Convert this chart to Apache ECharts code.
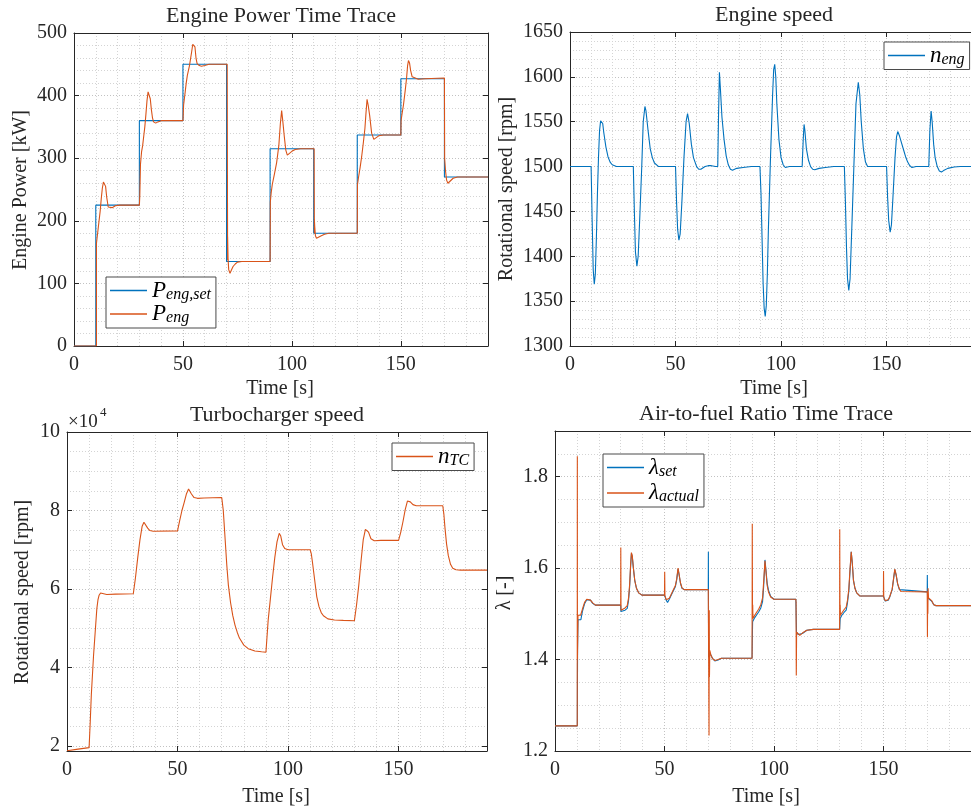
<!DOCTYPE html>
<html>
<head>
<meta charset="utf-8">
<script src="https://cdn.jsdelivr.net/npm/echarts@6/dist/echarts.min.js"></script>
<style>html,body{margin:0;padding:0;background:#fff;}#c{width:971px;height:812px;}</style>
</head>
<body>
<div id="c"></div>
<script>
// ---------- DATA ----------
const xTicks = [0, 50, 100, 150];
// Engine power set-point (step at each time, 'end' step)
const pSetT = [0, 10, 30, 50, 70, 90, 110, 130, 150, 170, 190];
const pSetV = [0, 225, 360, 450, 135, 315, 180, 337, 427, 270, 270];
// Engine power actual
const pT = [0, 10.3, 10.3, 11, 12, 12.5, 13, 13.5, 14, 14.5, 15, 15.7, 16.5, 17.5, 19, 21, 30,
  30.2, 30.5, 31, 31.5, 32, 32.5, 33, 33.5, 34, 34.4, 35, 35.5, 36, 36.5, 37.5, 38.5, 40, 50,
  50.3, 51, 51.5, 52, 53, 54, 54.5, 55, 55.5, 56, 56.5, 57.5, 58.5, 60, 62, 70.3,
  70.5, 70.5, 70.7, 71, 71.6, 72.2, 73, 74, 75, 77, 90,
  90.1, 90.5, 91, 92, 93, 94, 94.7, 95.3, 95.8, 96.5, 97.2, 97.9, 98.8, 100, 101.5, 104, 110.2,
  110.3, 110.3, 110.5, 110.8, 111.3, 112, 113.5, 115, 117, 130,
  130.1, 130.6, 131.3, 132, 132.8, 133.5, 134, 134.5, 135, 135.7, 136.6, 137.6, 138.5, 140, 142, 150,
  150.1, 150.6, 151.2, 152, 152.6, 153.1, 153.5, 154, 154.5, 155.2, 156, 158, 161, 170,
  170.1, 170.5, 171, 171.6, 172.5, 174, 176, 190];
const pV = [0, 0, 164, 185, 215, 235, 252, 262, 265, 255, 238, 222, 219, 221, 224, 225, 225,
  240, 290, 310, 320, 335, 350, 370, 392, 406, 408, 395, 378, 365, 358, 356, 358, 360, 360,
  385, 405, 420, 432, 448, 470, 482, 485, 478, 460, 451, 448, 447, 448, 450, 450,
  137, 175, 140, 122, 116, 121, 127, 131, 134, 135, 135,
  230, 245, 258, 275, 293, 320, 355, 376, 360, 335, 313, 305, 307, 311, 314, 315, 315,
  180, 203, 190, 176, 172, 173, 176, 178.5, 180, 180,
  258, 270, 285, 302, 325, 347, 372, 394, 385, 368, 340, 330, 332, 336, 337, 337,
  360, 372, 385, 408, 427, 448, 456, 452, 440, 430, 427, 426, 427, 428,
  300, 280, 265, 260, 263, 268, 270, 270];
// Engine speed
const nT = [0, 10, 10.5, 11, 11.5, 12, 12.5, 13, 13.5, 14, 14.5, 15, 15.5, 16, 17, 18, 19, 20, 22,
  30, 30.5, 31, 31.7, 32.3, 33, 34, 34.7, 35.5, 36, 37, 38, 39, 40, 42,
  50, 50.5, 51, 51.6, 52.2, 53, 54, 55, 55.7, 56.5, 57.5, 58.5, 60, 61, 62, 64, 65.5, 67, 69, 70,
  70.4, 70.8, 71.3, 72, 73, 74, 75, 76, 77, 79, 82, 86, 90,
  90.5, 91, 91.5, 92, 92.5, 93, 93.5, 94, 95, 96, 96.5, 97, 97.5, 98, 99, 100, 101, 102, 104, 110,
  110.5, 110.9, 111.3, 112, 113, 114, 115, 116, 118, 121, 125, 130,
  130.5, 131, 131.5, 132.1, 132.7, 133.5, 134.5, 135.5, 136.6, 137.3, 138, 139, 140, 141, 143, 150,
  150.5, 151, 151.7, 152.3, 153, 154, 154.7, 155.3, 156, 157, 158, 159, 160, 161, 162, 164, 170,
  170.5, 171.1, 171.6, 172.3, 173, 174, 175, 176, 177, 179, 182, 185, 190];
const nV = [1500, 1500, 1440, 1385, 1369, 1380, 1420, 1470, 1510, 1540, 1551, 1553, 1548, 1538, 1522, 1511, 1505, 1502, 1500,
  1500, 1450, 1405, 1389, 1400, 1440, 1500, 1550, 1567, 1562, 1540, 1520, 1510, 1504, 1500,
  1500, 1460, 1430, 1418, 1425, 1460, 1510, 1550, 1559, 1548, 1525, 1510, 1500, 1497, 1497, 1500, 1501, 1501, 1500, 1500,
  1560, 1605, 1585, 1555, 1530, 1512, 1502, 1497, 1496, 1498, 1499, 1500, 1500,
  1470, 1420, 1370, 1342, 1333, 1345, 1380, 1430, 1510, 1580, 1608, 1614, 1600, 1570, 1530, 1510, 1502, 1499, 1500, 1500,
  1530, 1547, 1540, 1520, 1507, 1500, 1497, 1496.5, 1498, 1499, 1500, 1500,
  1460, 1410, 1375, 1362, 1375, 1430, 1500, 1570, 1594, 1580, 1550, 1520, 1505, 1500, 1500, 1500,
  1465, 1440, 1427, 1435, 1465, 1510, 1533, 1539, 1535, 1527, 1519, 1511, 1505, 1501, 1499, 1500, 1500,
  1540, 1562, 1550, 1525, 1510, 1500, 1495, 1494, 1495.5, 1498, 1499.5, 1500, 1500];
// Turbocharger speed [rpm]
const tcT = [0, 5, 10, 10.5, 11, 12, 13, 13.5, 14, 14.5, 15.2, 16, 18, 22, 30,
  31, 32, 33, 34, 34.8, 35.5, 36.5, 37.5, 39, 50,
  51, 52, 53, 54, 55, 55.6, 56.3, 57.5, 59, 62, 70,
  70.7, 71.5, 72.3, 73, 74, 75, 76, 77, 78, 80, 82, 85, 88, 90,
  91, 92, 93, 94, 95, 96, 96.7, 97.5, 98.5, 100, 110,
  110.5, 111, 112, 113, 114, 115, 116, 118, 121, 125, 130,
  131, 132, 133, 134, 135, 135.7, 136.4, 137.5, 139, 142, 150,
  151, 152, 153, 154, 154.5, 155.3, 156.5, 158, 170,
  170.5, 171, 171.7, 172.5, 173.5, 174.5, 176, 178, 190];
const tcV = [18800, 19200, 19600, 26000, 33000, 43000, 51000, 55000, 57200, 58400, 59000, 58700, 58600, 58700, 58800,
  63000, 68000, 72500, 76000, 77000, 76600, 75500, 74900, 74700, 74800,
  77500, 80000, 82000, 84200, 85500, 85500, 84200, 83300, 83100, 83200, 83300,
  80000, 73000, 66000, 61000, 56500, 53200, 50800, 49000, 47500, 45700, 44800, 44200, 44000, 43900,
  52000, 57500, 63000, 68000, 72000, 74200, 73500, 71300, 70300, 70000, 70000,
  69000, 67000, 62500, 58000, 55500, 54000, 53200, 52400, 52100, 52000, 51900,
  56000, 61000, 67000, 72500, 75200, 75700, 74500, 72800, 72300, 72400, 72400,
  74500, 77200, 80200, 82400, 82700, 82200, 81500, 81200, 81200,
  79000, 75500, 71500, 68500, 66300, 65300, 64900, 64800, 64800];
const tcTicks = [20000, 40000, 60000, 80000, 100000];
// Air-to-fuel ratio, set-point
const lsT = [0, 10.2, 10.3, 10.5, 11.8, 12.5, 13.5, 14.5, 15.3, 16.2, 17.2, 18.5, 20, 30,
  30.1, 31, 32, 33, 33.6, 34.1, 34.5, 34.9, 35.3, 35.8, 36.4, 37.2, 38.2, 39.7, 50,
  50.2, 50.8, 51.4, 52.2, 53, 54, 55, 55.6, 56.2, 56.7, 57.3, 58, 59, 70,
  70.05, 70.15, 70.6, 71.2, 72, 73, 74.5, 76, 90,
  90.15, 90.25, 91, 92, 93, 94, 94.8, 95.3, 95.9, 96.4, 96.9, 97.5, 98.5, 100, 110,
  110.2, 110.3, 111, 111.8, 113, 115, 118, 130,
  130.15, 130.25, 131, 132, 133, 133.6, 134.2, 134.7, 135.3, 135.8, 136.3, 137, 137.8, 139.3, 150,
  150.2, 150.8, 151.4, 152.2, 152.9, 154, 154.6, 155.2, 155.8, 156.5, 157.3, 158, 170,
  170.05, 170.15, 171, 172, 173, 174, 190];
const lsV = [1.255, 1.255, 1.42, 1.487, 1.487, 1.505, 1.522, 1.531, 1.534, 1.530, 1.523, 1.519, 1.519, 1.519,
  1.505, 1.505, 1.508, 1.512, 1.53, 1.56, 1.60, 1.632, 1.625, 1.60, 1.574, 1.556, 1.546, 1.541, 1.541,
  1.538, 1.53, 1.525, 1.532, 1.54, 1.55, 1.56, 1.575, 1.598, 1.585, 1.567, 1.556, 1.553, 1.553,
  1.636, 1.405, 1.415, 1.41, 1.402, 1.397, 1.399, 1.403, 1.403,
  1.403, 1.483, 1.49, 1.497, 1.504, 1.513, 1.527, 1.56, 1.618, 1.593, 1.567, 1.552, 1.538, 1.532, 1.532,
  1.532, 1.46, 1.455, 1.452, 1.457, 1.464, 1.466, 1.466,
  1.466, 1.49, 1.497, 1.503, 1.508, 1.525, 1.55, 1.59, 1.636, 1.61, 1.574, 1.556, 1.546, 1.539, 1.539,
  1.535, 1.528, 1.525, 1.53, 1.537, 1.553, 1.575, 1.597, 1.585, 1.565, 1.553, 1.549, 1.548,
  1.585, 1.535, 1.537, 1.528, 1.52, 1.518, 1.518];
// Air-to-fuel ratio, actual
const laT = [0, 10.15, 10.2, 10.25, 10.5, 11.7, 12.5, 13.5, 14.5, 15.3, 16.2, 17.2, 18.5, 20, 30,
  30.05, 30.15, 31, 32, 33, 33.6, 34.1, 34.5, 34.9, 35.3, 35.8, 36.4, 37.2, 38.2, 39.7, 50,
  50.1, 50.2, 50.8, 51.4, 52.2, 53, 54, 55, 55.6, 56.2, 56.7, 57.3, 58, 59, 70,
  70.3, 70.35, 70.45, 70.55, 70.7, 71.2, 72, 73, 74.5, 76, 90,
  90.1, 90.2, 90.3, 90.4, 91, 92, 93, 94, 94.8, 95.3, 95.9, 96.4, 96.9, 97.5, 98.5, 100, 110,
  110.1, 110.2, 110.35, 111, 111.8, 113, 115, 118, 130,
  130.05, 130.15, 130.25, 130.35, 131, 132, 133, 133.6, 134.2, 134.7, 135.3, 135.8, 136.3, 137, 137.8, 139.3, 150,
  150.05, 150.15, 150.8, 151.4, 152.2, 152.9, 154, 154.6, 155.2, 155.8, 156.5, 157.3, 158, 170,
  170.1, 170.2, 170.3, 170.4, 170.6, 171.2, 172, 173, 174, 190];
const laV = [1.255, 1.255, 1.845, 1.40, 1.497, 1.497, 1.51, 1.525, 1.532, 1.534, 1.530, 1.524, 1.519, 1.519, 1.519,
  1.645, 1.508, 1.509, 1.513, 1.518, 1.535, 1.565, 1.605, 1.634, 1.627, 1.60, 1.574, 1.556, 1.546, 1.541, 1.541,
  1.592, 1.54, 1.531, 1.527, 1.534, 1.542, 1.552, 1.562, 1.577, 1.600, 1.586, 1.568, 1.557, 1.553, 1.553,
  1.553, 1.234, 1.508, 1.362, 1.42, 1.41, 1.402, 1.398, 1.400, 1.403, 1.403,
  1.697, 1.49, 1.52, 1.49, 1.495, 1.503, 1.51, 1.52, 1.535, 1.57, 1.616, 1.59, 1.562, 1.548, 1.537, 1.532, 1.532,
  1.525, 1.365, 1.46, 1.456, 1.453, 1.458, 1.464, 1.466, 1.466,
  1.685, 1.494, 1.52, 1.497, 1.502, 1.509, 1.515, 1.53, 1.555, 1.595, 1.636, 1.61, 1.574, 1.556, 1.546, 1.539, 1.539,
  1.594, 1.536, 1.529, 1.526, 1.531, 1.538, 1.554, 1.576, 1.598, 1.586, 1.566, 1.554, 1.549, 1.548,
  1.449, 1.54, 1.50, 1.556, 1.535, 1.538, 1.529, 1.52, 1.518, 1.518];

// ---------- STYLE / BUILD ----------
const FONT = '"Liberation Serif", "Times New Roman", serif';
const TXT = '#262626';
const BLUE = '#0072BD', ORANGE = '#D95319';
const MAJ = '#c2c2c2', MIN = '#d4d4d4';
const zip = (t, v) => t.map((x, i) => [x, v[i]]);

const grids = [
  {left: 74, top: 33, width: 414, height: 313},
  {left: 570, top: 32, width: 409, height: 314},
  {left: 67, top: 432, width: 420, height: 319},
  {left: 555, top: 431, width: 423, height: 320}
];

function axLine() { return {show: true, onZero: false, lineStyle: {color: TXT, width: 1}}; }
function axTick() { return {show: true, inside: true, length: 5, lineStyle: {color: TXT, width: 1}}; }
function lbl(extra) { return Object.assign({show: true, color: TXT, fontFamily: FONT, fontSize: 20, formatter: v => String(v)}, extra || {}); }
function dotted(c) { return {show: true, lineStyle: {color: c, type: [1, 2], width: 1}}; }

function mainX(g) {
  return {type: 'value', gridIndex: g, min: 0, max: 190, interval: 50, position: 'bottom',
    axisLine: axLine(), axisTick: axTick(), axisLabel: lbl({margin: 9, showMaxLabel: false}),
    splitLine: dotted(MAJ), minorTick: {show: false, splitNumber: 5}, minorSplitLine: dotted(MIN)};
}
function topX(g) {
  return {type: 'value', gridIndex: g, min: 0, max: 190, interval: 50, position: 'top',
    axisLine: axLine(), axisTick: axTick(), axisLabel: {show: false}, splitLine: {show: false}};
}
const xAxes = [mainX(0), topX(0), mainX(1), topX(1), mainX(2), topX(2), mainX(3), topX(3)];

const yAxes = [
  {type: 'value', gridIndex: 0, min: 0, max: 500, interval: 100, position: 'left',
    axisLine: axLine(), axisTick: axTick(), axisLabel: lbl({margin: 7}),
    splitLine: dotted(MAJ), minorTick: {show: false, splitNumber: 5}, minorSplitLine: dotted(MIN)},
  {type: 'value', gridIndex: 0, min: 0, max: 500, interval: 100, position: 'right',
    axisLine: axLine(), axisTick: axTick(), axisLabel: {show: false}, splitLine: {show: false}},
  {type: 'value', gridIndex: 1, min: 1300, max: 1650, interval: 50, position: 'left',
    axisLine: axLine(), axisTick: axTick(), axisLabel: lbl({margin: 7}),
    splitLine: dotted(MAJ), minorTick: {show: false, splitNumber: 5}, minorSplitLine: dotted(MIN)},
  {type: 'value', gridIndex: 2, min: 18730, max: 100000, position: 'left',
    axisLine: axLine(), axisTick: Object.assign(axTick(), {customValues: tcTicks}),
    axisLabel: lbl({margin: 7, customValues: tcTicks, formatter: v => String(Math.round(v / 10000))}),
    splitLine: dotted(MAJ)},
  {type: 'value', gridIndex: 2, min: 18730, max: 100000, position: 'right',
    axisLine: axLine(), axisTick: Object.assign(axTick(), {customValues: tcTicks}),
    axisLabel: {show: false}, splitLine: {show: false}},
  {type: 'value', gridIndex: 2, min: 18730, max: 100000, position: 'left',
    axisLine: {show: false}, axisTick: {show: false, customValues: [25000, 30000, 35000, 45000, 50000, 55000, 65000, 70000, 75000, 85000, 90000, 95000]},
    axisLabel: {show: false}, splitLine: dotted(MIN)},
  {type: 'value', gridIndex: 3, min: 1.2, max: 1.9, interval: 0.2, position: 'left',
    axisLine: axLine(), axisTick: axTick(), axisLabel: lbl({margin: 7, showMaxLabel: false, formatter: v => v.toFixed(1)}),
    splitLine: dotted(MAJ), minorTick: {show: false, splitNumber: 4}, minorSplitLine: dotted(MIN)}
];

function line(name, xi, yi, data, color, step) {
  const s = {name, type: 'line', xAxisIndex: xi, yAxisIndex: yi, data, symbol: 'none', showSymbol: false,
    lineStyle: {color, width: 1.1}, itemStyle: {color}, animation: false, silent: true, clip: true};
  if (step) s.step = step;
  return s;
}
const series = [
  line('Pset', 0, 0, zip(pSetT, pSetV), BLUE, 'end'),
  line('P', 0, 0, zip(pT, pV), ORANGE),
  line('neng', 2, 2, zip(nT, nV), BLUE),
  line('nTC', 4, 3, zip(tcT, tcV), ORANGE),
  line('lset', 6, 6, zip(lsT, lsV), BLUE),
  line('lact', 6, 6, zip(laT, laV), ORANGE)
];

const legendNames = {
  Pset: '{m|P}{s|eng,set}', P: '{m|P}{s|eng}', neng: '{m|n}{s|eng}', nTC: '{m|n}{s|TC}',
  lset: '{m|λ}{s|set}', lact: '{m|λ}{s|actual}'
};
const rich = {
  m: {fontFamily: FONT, fontStyle: 'italic', fontSize: 23, lineHeight: 24, color: '#000', verticalAlign: 'middle'},
  s: {fontFamily: FONT, fontStyle: 'italic', fontSize: 16, lineHeight: 13, color: '#000', verticalAlign: 'bottom'}
};
function legend(data, left, top, gap) {
  return {data, left, top, orient: 'vertical', icon: 'rect', itemWidth: 37, itemHeight: 1.6, itemGap: gap,
    padding: [2, 5, 2, 4], backgroundColor: '#fff', borderColor: '#4a4a4a', borderWidth: 1, borderRadius: 0,
    selectedMode: false, formatter: n => legendNames[n], textStyle: {rich, padding: [0, 0, 0, 0]}};
}

function txt(text, x, y, size, rot, extra) {
  return Object.assign({type: 'text', x, y, rotation: rot || 0, silent: true,
    style: {text, fill: TXT, fontFamily: FONT, fontSize: size, align: 'center', verticalAlign: 'middle'}}, extra || {});
}
const graphics = [
  txt('Engine Power Time Trace', 281, 16, 22),
  txt('Engine speed', 774, 15, 22),
  txt('Turbocharger speed', 277, 415, 22),
  txt('Air-to-fuel Ratio Time Trace', 766, 414, 22),
  txt('Time [s]', 280, 389, 20),
  txt('Time [s]', 774, 389, 20),
  txt('Time [s]', 276, 797, 20),
  txt('Time [s]', 766, 797, 20),
  txt('Engine Power [kW]', 21, 190, 20, Math.PI / 2),
  txt('Rotational speed [rpm]', 507, 189, 20, Math.PI / 2),
  txt('Rotational speed [rpm]', 23, 592, 20, Math.PI / 2),
  txt('λ [-]', 505, 593, 20, Math.PI / 2),
  {type: 'text', x: 68, y: 422, silent: true, style: {text: '×10', fill: TXT, fontFamily: FONT, fontSize: 19, align: 'left', verticalAlign: 'middle'}},
  {type: 'text', x: 100, y: 413, silent: true, style: {text: '4', fill: TXT, fontFamily: FONT, fontSize: 13, align: 'left', verticalAlign: 'middle'}}
];

const chart = echarts.init(document.getElementById('c'), null, {renderer: 'canvas'});
chart.setOption({
  animation: false,
  backgroundColor: '#fff',
  grid: grids.map(g => Object.assign({show: false, containLabel: false}, g)),
  xAxis: xAxes,
  yAxis: yAxes,
  series,
  legend: [
    legend(['Pset', 'P'], 106, 277, 0),
    legend(['neng'], 884, 42, 0),
    legend(['nTC'], 392, 443, 0),
    legend(['lset', 'lact'], 603, 454, 2)
  ],
  graphic: graphics
});
</script>
</body>
</html>
